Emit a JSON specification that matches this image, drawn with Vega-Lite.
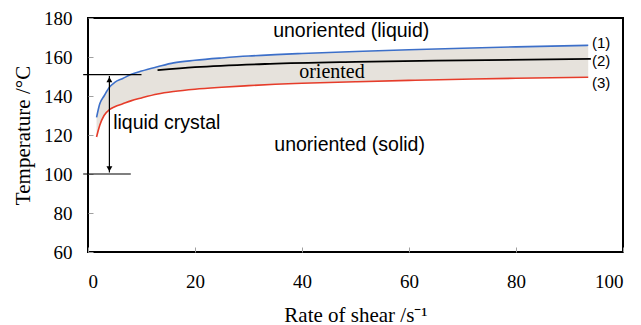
{
  "$schema": "https://vega.github.io/schema/vega-lite/v6.json",
  "autosize": {"type": "none"},
  "padding": {"left": 88, "top": 18, "right": 18, "bottom": 73},
  "width": 535,
  "height": 234,
  "background": "white",
  "config": {
    "view": {"stroke": "black", "strokeWidth": 2},
    "axis": {"grid": false, "domain": false, "labelOverlap": false, "labelBound": false, "labelFont": "Liberation Serif", "labelFontSize": 19, "labelColor": "black", "titleFont": "Liberation Serif", "titleFontSize": 21, "titleFontWeight": "normal", "titleColor": "black", "ticks": true, "tickColor": "#a0a0a0", "tickWidth": 1, "tickSize": -5, "zindex": 1}
  },
  "datasets": {
    "bounds": [
      {"x": 1.6, "upper": 129, "lower": 119},
      {"x": 2.2, "upper": 136, "lower": 125},
      {"x": 3, "upper": 140, "lower": 130},
      {"x": 4, "upper": 144.5, "lower": 133},
      {"x": 5, "upper": 147, "lower": 134.5},
      {"x": 6.5, "upper": 149, "lower": 136},
      {"x": 8, "upper": 151, "lower": 137.5},
      {"x": 10, "upper": 152.8, "lower": 139},
      {"x": 13, "upper": 155, "lower": 141},
      {"x": 16, "upper": 157, "lower": 142.3},
      {"x": 20, "upper": 158.3, "lower": 143.5},
      {"x": 25, "upper": 159.5, "lower": 144.5},
      {"x": 30, "upper": 160.5, "lower": 145.3},
      {"x": 35, "upper": 161.2, "lower": 146},
      {"x": 40, "upper": 161.8, "lower": 146.5},
      {"x": 50, "upper": 162.8, "lower": 147.3},
      {"x": 60, "upper": 163.7, "lower": 148},
      {"x": 70, "upper": 164.5, "lower": 148.6},
      {"x": 80, "upper": 165.2, "lower": 149.1},
      {"x": 93.5, "upper": 166, "lower": 149.6}
    ],
    "mid": [
      {"x": 13, "y": 153.3},
      {"x": 20, "y": 154.8},
      {"x": 34, "y": 156.5},
      {"x": 50, "y": 157.5},
      {"x": 70, "y": 158.3},
      {"x": 94, "y": 159}
    ],
    "hlines": [
      {"x": -0.9, "x2": 10, "y": 151},
      {"x": -0.9, "x2": 8, "y": 100}
    ],
    "arrow": [
      {"x": 4, "y": 150.2, "y2": 100.8}
    ],
    "heads": [
      {"x": 4, "y": 148.4, "shape": "triangle-up"},
      {"x": 4, "y": 102.6, "shape": "triangle-down"}
    ],
    "big": [
      {"x": 49.2, "y": 173.3, "label": "unoriented (liquid)"},
      {"x": 48.9, "y": 114.9, "label": "unoriented (solid)"}
    ],
    "lc": [
      {"x": 4.7, "y": 126, "label": "liquid crystal"}
    ],
    "nums": [
      {"x": 94.2, "y": 167.3, "label": "(1)"},
      {"x": 94.2, "y": 158.1, "label": "(2)"},
      {"x": 94.2, "y": 146.5, "label": "(3)"}
    ],
    "serif": [
      {"x": 45.6, "y": 152.5, "label": "oriented"}
    ]
  },
  "layer": [
    {
      "data": {"name": "bounds"},
      "mark": {"type": "area", "color": "#e6e2dc", "opacity": 1, "interpolate": "monotone"},
      "encoding": {
        "x": {"field": "x", "type": "quantitative", "scale": {"domain": [0, 100]}, "axis": {"values": [0, 20, 40, 60, 80, 100], "tickCount": 20, "title": "Rate of shear /s\u207b\u00b9", "labelPadding": 25, "titlePadding": 13}},
        "y": {"field": "upper", "type": "quantitative", "scale": {"domain": [60, 180]}, "axis": {"values": [60, 80, 100, 120, 140, 160, 180], "tickCount": 20, "title": "Temperature /\u00b0C", "labelPadding": 21, "titlePadding": 10}},
        "y2": {"field": "lower"}
      }
    },
    {
      "data": {"name": "bounds"},
      "mark": {"type": "line", "color": "#3c6fc9", "strokeWidth": 1.6, "interpolate": "monotone"},
      "encoding": {"x": {"field": "x", "type": "quantitative"}, "y": {"field": "upper", "type": "quantitative"}}
    },
    {
      "data": {"name": "bounds"},
      "mark": {"type": "line", "color": "#e63c2a", "strokeWidth": 1.6, "interpolate": "monotone"},
      "encoding": {"x": {"field": "x", "type": "quantitative"}, "y": {"field": "lower", "type": "quantitative"}}
    },
    {
      "data": {"name": "mid"},
      "mark": {"type": "line", "color": "black", "strokeWidth": 1.8, "interpolate": "monotone"},
      "encoding": {"x": {"field": "x", "type": "quantitative"}, "y": {"field": "y", "type": "quantitative"}}
    },
    {
      "data": {"name": "hlines"},
      "mark": {"type": "rule", "color": "black", "strokeWidth": 1.2},
      "encoding": {"x": {"field": "x", "type": "quantitative"}, "x2": {"field": "x2"}, "y": {"field": "y", "type": "quantitative"}}
    },
    {
      "data": {"name": "arrow"},
      "mark": {"type": "rule", "color": "black", "strokeWidth": 1.2},
      "encoding": {"x": {"field": "x", "type": "quantitative"}, "y": {"field": "y", "type": "quantitative"}, "y2": {"field": "y2"}}
    },
    {
      "data": {"name": "heads"},
      "mark": {"type": "point", "filled": true, "color": "black", "size": 35, "opacity": 1},
      "encoding": {"x": {"field": "x", "type": "quantitative"}, "y": {"field": "y", "type": "quantitative"}, "shape": {"field": "shape", "type": "nominal", "scale": null}}
    },
    {
      "data": {"name": "big"},
      "mark": {"type": "text", "font": "Liberation Sans", "fontSize": 19.5, "color": "black", "baseline": "middle", "align": "center"},
      "encoding": {"x": {"field": "x", "type": "quantitative"}, "y": {"field": "y", "type": "quantitative"}, "text": {"field": "label"}}
    },
    {
      "data": {"name": "lc"},
      "mark": {"type": "text", "font": "Liberation Sans", "fontSize": 19.5, "color": "black", "baseline": "middle", "align": "left"},
      "encoding": {"x": {"field": "x", "type": "quantitative"}, "y": {"field": "y", "type": "quantitative"}, "text": {"field": "label"}}
    },
    {
      "data": {"name": "nums"},
      "mark": {"type": "text", "font": "Liberation Sans", "fontSize": 15, "color": "black", "baseline": "middle", "align": "left"},
      "encoding": {"x": {"field": "x", "type": "quantitative"}, "y": {"field": "y", "type": "quantitative"}, "text": {"field": "label"}}
    },
    {
      "data": {"name": "serif"},
      "mark": {"type": "text", "font": "Liberation Serif", "fontSize": 20, "color": "black", "baseline": "middle", "align": "center"},
      "encoding": {"x": {"field": "x", "type": "quantitative"}, "y": {"field": "y", "type": "quantitative"}, "text": {"field": "label"}}
    }
  ]
}
